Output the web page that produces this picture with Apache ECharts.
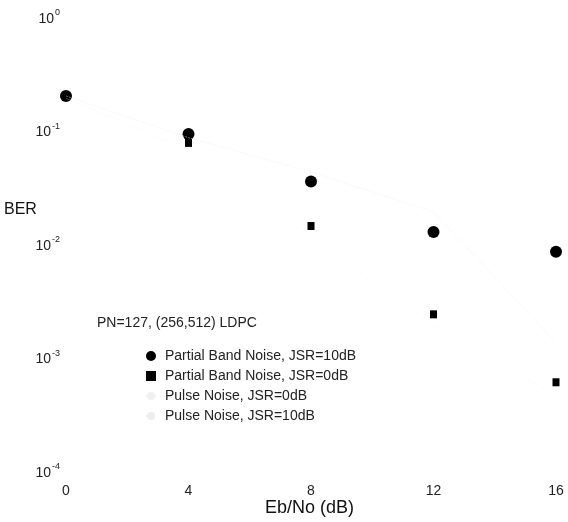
<!DOCTYPE html>
<html><head><meta charset="utf-8">
<script src="https://cdn.jsdelivr.net/npm/echarts@6/dist/echarts.min.js"></script>
<style>html,body{margin:0;padding:0;background:#fff}#c{width:568px;height:522px}</style>
</head><body><div id="c"></div>
<script>
const ebno = [0, 4, 8, 12, 16];
const pbn10 = [0.21, 0.097, 0.037, 0.0133, 0.0089];
const pbn0 = [null, 0.081, 0.015, 0.0025, 0.00063];
const pulse0 = [0.2, 0.07, 0.012, 0.002, 0.00048];
const pulse10 = [0.21, 0.09, 0.045, 0.02, 0.0014];
const seriesNames = ['Partial Band Noise, JSR=10dB','Partial Band Noise, JSR=0dB','Pulse Noise, JSR=0dB','Pulse Noise, JSR=10dB'];
const xTicks = [0, 4, 8, 12, 16];
const note = 'PN=127, (256,512) LDPC';

const pairs = a => ebno.map((x,i)=>[x,a[i]]).filter(p=>p[1]!=null);
const font = '"Liberation Sans", Arial, sans-serif';
const chart = echarts.init(document.getElementById('c'));
chart.setOption({
  animation:false,
  backgroundColor:'#fff',
  textStyle:{fontFamily:font},
  grid:{left:66,right:12,top:19,bottom:49},
  xAxis:{type:'value',min:0,max:16,interval:4,
    axisLine:{show:false},axisTick:{show:false},splitLine:{show:false},
    axisLabel:{margin:11,fontSize:14,color:'#222',fontFamily:font}},
  yAxis:{type:'log',logBase:10,min:1e-4,max:1,
    axisLine:{show:false},axisTick:{show:false},splitLine:{show:false},minorTick:{show:false},
    axisLabel:{margin:6,color:'#222',fontFamily:font,
      formatter:v=>'{b|10}{s|'+Math.round(Math.log10(v))+'}',
      rich:{b:{fontSize:14,color:'#222',fontFamily:font},
            s:{fontSize:9,color:'#222',fontFamily:font,verticalAlign:'bottom',padding:[0,0,12,1]}}}},
  legend:{orient:'vertical',left:140,top:344,itemGap:6,itemWidth:10,itemHeight:10,
    textStyle:{fontSize:14,lineHeight:14,color:'#222',fontFamily:font,padding:[0,0,0,4]},
    data:[{name:seriesNames[0],icon:'circle'},{name:seriesNames[1],icon:'rect'},
          {name:seriesNames[2]},{name:seriesNames[3]}]},
  graphic:[
    {type:'text',left:4,top:202,style:{text:'BER',fontSize:16,fill:'#111',fontFamily:font}},
    {type:'text',left:265,top:499,style:{text:'Eb/No (dB)',fontSize:18,fill:'#111',fontFamily:font}},
    {type:'text',left:97,top:316,style:{text:note,fontSize:14,fill:'#222',fontFamily:font,letterSpacing:0.4}}
  ],
  series:[
    {name:seriesNames[0],type:'scatter',data:pairs(pbn10),symbol:'circle',symbolSize:12,itemStyle:{color:'#000',opacity:1}},
    {name:seriesNames[1],type:'scatter',data:pairs(pbn0),symbol:'rect',symbolSize:[7,8],itemStyle:{color:'#000',opacity:1}},
    {name:seriesNames[2],type:'line',data:pairs(pulse0),symbol:'none',
      lineStyle:{color:'#f3f3f3',width:0.5,type:'dotted'},itemStyle:{color:'#f0f0f0'}},
    {name:seriesNames[3],type:'line',data:pairs(pulse10),symbol:'none',
      lineStyle:{color:'#efefef',width:0.5,type:'dashed'},itemStyle:{color:'#eeeeee'}}
  ]
});
</script></body></html>
